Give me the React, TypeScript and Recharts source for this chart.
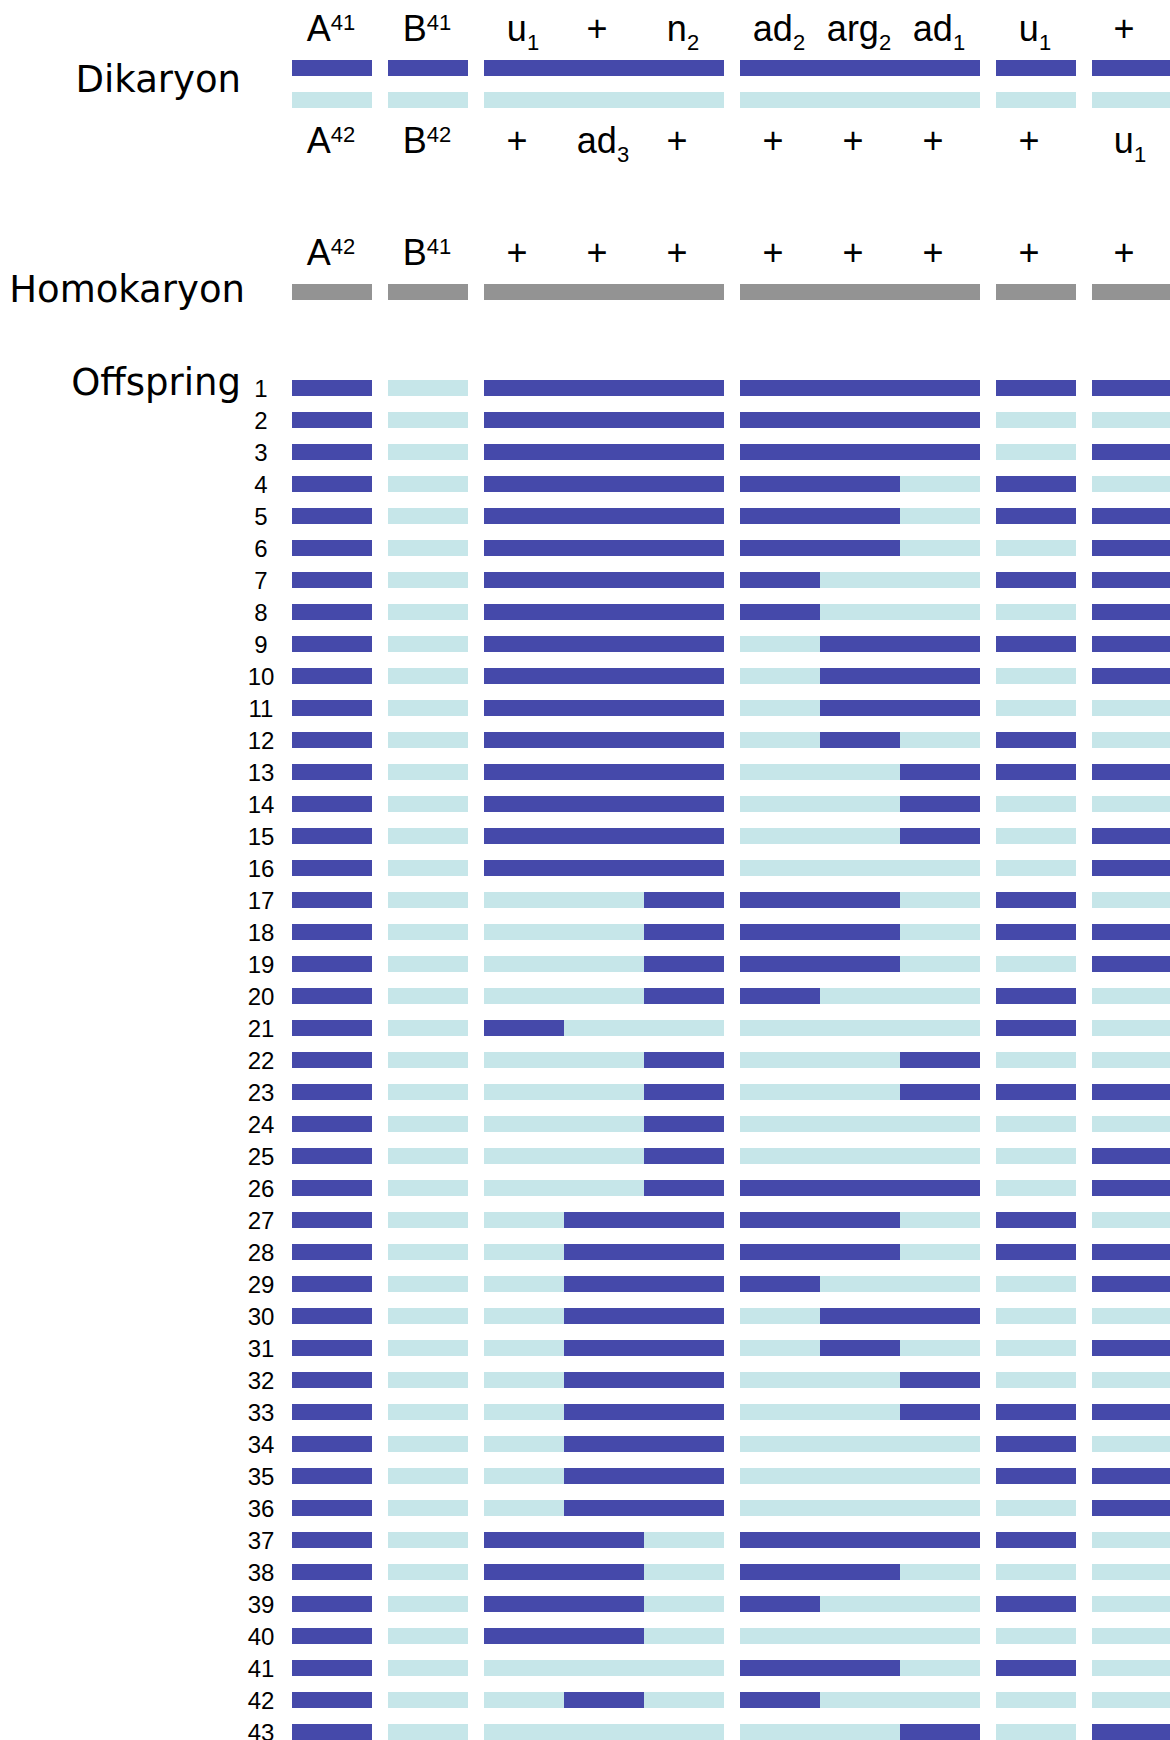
import { BarChart, Bar, XAxis, YAxis, Cell, LabelList } from 'recharts';

// colours: D = dikaryon nucleus 1, L = nucleus 2, G = homokaryon
const DARK = '#4549aa';
const LIGHT = '#c6e6e9';
const GRAY = '#939393';

// loci per chromosome segment (A | B | u1 + n2 | ad2 arg2 ad1 | u1 | +)
const locusGroups = [1, 1, 3, 3, 1, 1];

// locus labels, "^" = superscript, "_" = subscript
const dikaryonTop = ['A^41', 'B^41', 'u_1', '+', 'n_2', 'ad_2', 'arg_2', 'ad_1', 'u_1', '+'];
const dikaryonBottom = ['A^42', 'B^42', '+', 'ad_3', '+', '+', '+', '+', '+', 'u_1'];
const homokaryonLabels = ['A^42', 'B^41', '+', '+', '+', '+', '+', '+', '+', '+'];

// offspring genotypes, one char per locus: D = dark nucleus, L = light nucleus
const offspring = [
  'DLDDDDDDDD', // 1
  'DLDDDDDDLL',
  'DLDDDDDDLD',
  'DLDDDDDLDL',
  'DLDDDDDLDD', // 5
  'DLDDDDDLLD',
  'DLDDDDLLDD',
  'DLDDDDLLLD',
  'DLDDDLDDDD',
  'DLDDDLDDLD', // 10
  'DLDDDLDDLL',
  'DLDDDLDLDL',
  'DLDDDLLDDD',
  'DLDDDLLDLL',
  'DLDDDLLDLD', // 15
  'DLDDDLLLLD',
  'DLLLDDDLDL',
  'DLLLDDDLDD',
  'DLLLDDDLLD',
  'DLLLDDLLDL', // 20
  'DLDLLLLLDL',
  'DLLLDLLDLL',
  'DLLLDLLDDD',
  'DLLLDLLLLL',
  'DLLLDLLLLD', // 25
  'DLLLDDDDLD',
  'DLLDDDDLDL',
  'DLLDDDDLDD',
  'DLLDDDLLLD',
  'DLLDDLDDLL', // 30
  'DLLDDLDLLD',
  'DLLDDLLDLL',
  'DLLDDLLDDD',
  'DLLDDLLLDL',
  'DLLDDLLLDD', // 35
  'DLLDDLLLLD',
  'DLDDLDDDDL',
  'DLDDLDDLLL',
  'DLDDLDLLDL',
  'DLDDLLLLLL', // 40
  'DLLLLDDLDL',
  'DLLDLDLLLL',
  'DLLLLLLDLD',
];

const SEG_GAP = 0.2; // gap between chromosome segments, in locus units

interface Row {
  id: string;
  geno?: string;
  top?: string[];
  bottom?: string[];
  num?: string;
  title?: string;
}

const rows: Row[] = [
  { id: 'dk-a', geno: 'DDDDDDDDDD', top: dikaryonTop, title: 'Dikaryon' },
  { id: 'dk-b', geno: 'LLLLLLLLLL', bottom: dikaryonBottom },
  { id: 'sp1' }, { id: 'sp2' }, { id: 'sp3' }, { id: 'sp4' }, { id: 'sp5' },
  { id: 'hk', geno: 'GGGGGGGGGG', top: homokaryonLabels, title: 'Homokaryon' },
  { id: 'sp6' }, { id: 'sp7' },
  ...offspring.map((g, i) => ({
    id: `o${i + 1}`,
    geno: g,
    num: String(i + 1),
    title: i === 0 ? 'Offspring' : undefined,
  })),
];

// stacked segments: one per locus plus transparent gaps between chromosome pieces
const segments: { key: string; locus: number | null }[] = [];
let li = 0;
locusGroups.forEach((n, g) => {
  for (let j = 0; j < n; j++) {
    segments.push({ key: `l${li}`, locus: li });
    li++;
  }
  if (g < locusGroups.length - 1) segments.push({ key: `gap${g}`, locus: null });
});

const chartData = rows.map(r => {
  const d: any = { id: r.id };
  if (r.geno) segments.forEach(s => (d[s.key] = s.locus == null ? SEG_GAP : 1));
  r.top?.forEach((t, i) => (d[`top${i}`] = t));
  r.bottom?.forEach((t, i) => (d[`bot${i}`] = t));
  return d;
});

const rowById: Record<string, Row> = {};
rows.forEach(r => (rowById[r.id] = r));

const colorOf = (c?: string) => (c === 'D' ? DARK : c === 'L' ? LIGHT : c === 'G' ? GRAY : 'transparent');

const LABEL_FONT = '"Liberation Sans", Arial, Helvetica, sans-serif';
const TITLE_FONT = '"DejaVu Sans", Verdana, sans-serif';

// title baseline offsets from the row centre
const TITLE_DY: Record<string, number> = { 'dk-a': 24, hk: 10, o1: 7 };

const LocusText = ({ x, y, text }: { x: number; y: number; text: string }) => {
  const m = text.match(/^([^_^]+)([_^]?)(.*)$/);
  const main = m ? m[1] : text;
  const mark = m ? m[2] : '';
  const small = m ? m[3] : '';
  return (
    <text x={x} y={y} textAnchor="middle" fontFamily={LABEL_FONT} fontSize={36} fill="#000">
      <tspan>{main}</tspan>
      {mark && (
        <tspan dy={mark === '^' ? -11 : 9} fontSize={22}>
          {small}
        </tspan>
      )}
    </text>
  );
};

const renderLocusLabel = (below: boolean) => (props: any) => {
  const { x, y, width, height, value } = props;
  if (value == null || value === '') return null;
  const shift = value === '+' ? -7 : -1;
  const cx = Number(x) + Number(width) / 2 + shift;
  const base = below ? Number(y) + Number(height) + 45 : Number(y) - 19;
  return <LocusText x={cx} y={base} text={String(value)} />;
};

const RowTick = (props: any) => {
  const { y, payload } = props;
  const row = rowById[payload.value];
  if (!row) return null;
  return (
    <g>
      {row.num && (
        <text x={261} y={y + 8.5} textAnchor="middle" fontFamily={LABEL_FONT} fontSize={24} fill="#000">
          {row.num}
        </text>
      )}
      {row.title && (
        <text
          x={row.id === 'hk' ? 245 : 241}
          y={y + (TITLE_DY[row.id] ?? 8)}
          textAnchor="end"
          fontFamily={TITLE_FONT}
          fontSize={37}
          fill="#000"
        >
          {row.title}
        </text>
      )}
    </g>
  );
};

export default function App() {
  return (
    <div style={{ position: 'absolute', left: 0, top: 0, width: 1170, height: 1740, overflow: 'hidden', background: '#fff' }}>
      <BarChart
        width={1170}
        height={1748}
        data={chartData}
        layout="vertical"
        margin={{ top: 52, right: 0, bottom: 0, left: 0 }}
        barSize={16}
      >
        <XAxis type="number" hide domain={[0, 10.975]} allowDataOverflow />
        <YAxis
          type="category"
          dataKey="id"
          width={292}
          axisLine={false}
          tickLine={false}
          interval={0}
          tick={RowTick}
        />
        {segments.map(s => (
          <Bar
            key={s.key}
            dataKey={s.key}
            stackId="chr"
            isAnimationActive={false}
            fill={s.locus == null ? 'transparent' : LIGHT}
          >
            {s.locus != null &&
              rows.map((r, i) => <Cell key={`c-${s.key}-${i}`} fill={colorOf(r.geno?.[s.locus as number])} />)}
            {s.locus != null && (
              <LabelList dataKey={`top${s.locus}`} content={renderLocusLabel(false)} />
            )}
            {s.locus != null && (
              <LabelList dataKey={`bot${s.locus}`} content={renderLocusLabel(true)} />
            )}
          </Bar>
        ))}
      </BarChart>
    </div>
  );
}
